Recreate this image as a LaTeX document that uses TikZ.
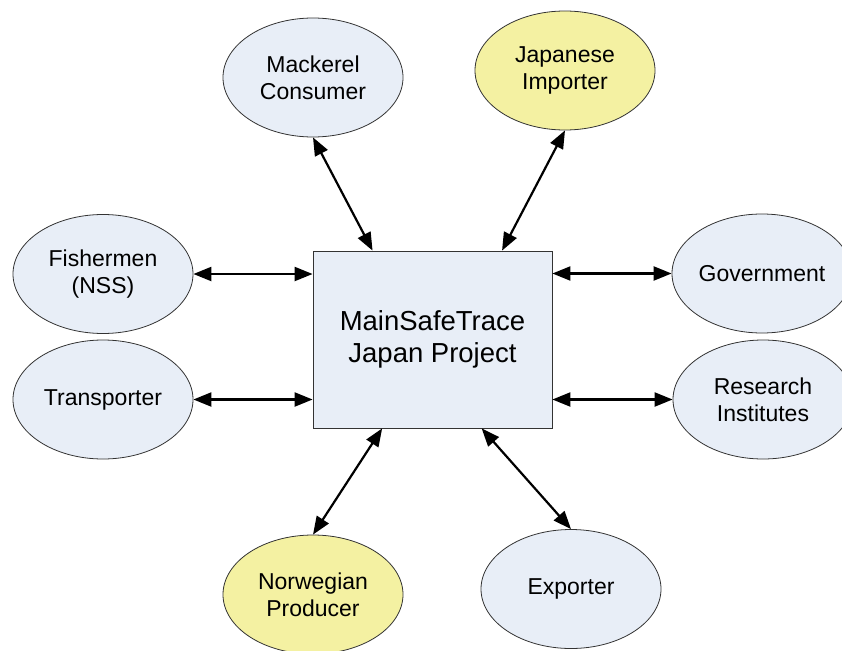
\documentclass[tikz,border=0pt]{standalone}
\usepackage{fontspec}
\setmainfont{Liberation Sans}
\usepackage{tikz}
\usetikzlibrary{
  	shapes.geometric,
  	arrows.meta,
  	calc,
  	positioning
  }
\definecolor{paleblue}{HTML}{E8EEF7}
\definecolor{paleyellow}{HTML}{F4F1A2}
\tikzstyle{actor}=[ellipse,draw=black!80,line width=0.8pt,fill=paleblue,minimum width=180pt,minimum height=119pt,inner sep=0pt,align=center,font=\fontsize{23}{27}\selectfont]
\tikzstyle{jpactor}=[actor,fill=paleyellow]
\tikzstyle{project}=[rectangle,draw=black!80,line width=0.8pt,fill=paleblue,minimum width=239pt,minimum height=177pt,inner sep=0pt,align=center,font=\fontsize{27.5}{32}\selectfont]
\tikzstyle{link}=[{Triangle[length=18pt,width=14pt]}-{Triangle[length=18pt,width=14pt]},line width=2.2pt]

\begin{document}
\begin{tikzpicture}[x=1pt,y=-1pt]
  \useasboundingbox (0,0) rectangle (842,650);
  \node [project] (main) at (432.5,339.5) {MainSafeTrace\\Japan Project};
%
  \node [actor] (cons) at (313,77.5) {Mackerel\\Consumer};
  \node [jpactor] (imp) at (565,70.5) {Japanese\\Importer};
  \node [actor] (fish) at (103,274) {Fishermen\\(NSS)};
  \node [actor] (trans) at (103,399.5) {Transporter};
  \node [actor] (gov) at (762,273.5) {Government};
  \node [actor] (res) at (763,399.5) {Research\\Institutes};
  \node [jpactor] (prod) at (313,594.5) {Norwegian\\Producer};
  \node [actor] (exp) at (571,589) {Exporter};
%
  \coordinate (nw) at ($(main.north west)!0.25!(main.north east)$);
  \coordinate (ne) at ($(main.north west)!0.79!(main.north east)$);
  \coordinate (sw) at ($(main.south west)!0.29!(main.south east)$);
  \coordinate (se) at ($(main.south west)!0.705!(main.south east)$);
  \draw [link] (cons.south) -- (nw);
  \draw [link] (imp.south) -- (ne);
  \draw [link] (fish.east) -- (fish.east -| main.west);
  \draw [link] (trans.east) -- (trans.east -| main.west);
  \draw [link] (main.east |- gov.west) -- (gov.west);
  \draw [link] (main.east |- res.west) -- (res.west);
  \draw [link] (sw) -- (prod.north);
  \draw [link] (se) -- (exp.north);
\end{tikzpicture}
\end{document}
